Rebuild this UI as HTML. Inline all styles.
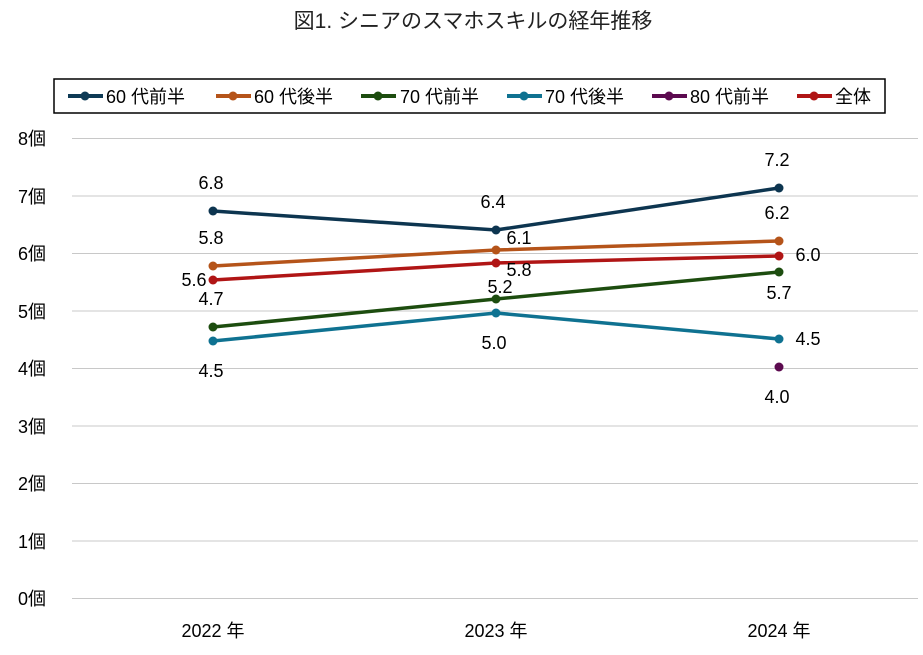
<!DOCTYPE html><html><head><meta charset="utf-8"><style>body{margin:0;background:#fff}svg text{font-family:"Liberation Sans","Noto Sans CJK JP",sans-serif}</style></head><body>
<svg width="923" height="650" xmlns="http://www.w3.org/2000/svg">
<text x="473" y="28" font-size="21" text-anchor="middle" fill="#222">図1. シニアのスマホスキルの経年推移</text>
<rect x="54" y="79" width="831" height="34" fill="#fff" stroke="#000" stroke-width="1.5"/>
<g font-size="18" fill="#000" stroke-width="4">
<line x1="68" y1="96" x2="103" y2="96" stroke="#0e3a55"/><circle cx="85" cy="96" r="4.5" fill="#0e3a55"/><text x="106" y="103">60 代前半</text>
<line x1="216" y1="96" x2="251" y2="96" stroke="#b5541a"/><circle cx="233" cy="96" r="4.5" fill="#b5541a"/><text x="254" y="103">60 代後半</text>
<line x1="361" y1="96" x2="396" y2="96" stroke="#1d4d0f"/><circle cx="378" cy="96" r="4.5" fill="#1d4d0f"/><text x="400" y="103">70 代前半</text>
<line x1="507" y1="96" x2="542" y2="96" stroke="#0f7291"/><circle cx="524" cy="96" r="4.5" fill="#0f7291"/><text x="545" y="103">70 代後半</text>
<line x1="652" y1="96" x2="687" y2="96" stroke="#5c0a4f"/><circle cx="669" cy="96" r="4.5" fill="#5c0a4f"/><text x="690" y="103">80 代前半</text>
<line x1="797" y1="96" x2="832" y2="96" stroke="#b01515"/><circle cx="814" cy="96" r="4.5" fill="#b01515"/><text x="835" y="103">全体</text>
</g>
<g stroke="#c8c8c8" stroke-width="1">
<line x1="72" y1="138.5" x2="918" y2="138.5"/><line x1="72" y1="196" x2="918" y2="196"/><line x1="72" y1="253.5" x2="918" y2="253.5"/><line x1="72" y1="311" x2="918" y2="311"/><line x1="72" y1="368.5" x2="918" y2="368.5"/><line x1="72" y1="426" x2="918" y2="426"/><line x1="72" y1="483.5" x2="918" y2="483.5"/><line x1="72" y1="541" x2="918" y2="541"/><line x1="72" y1="598.5" x2="918" y2="598.5"/>
</g>
<g font-size="18" fill="#000">
<text x="18" y="145">8個</text><text x="18" y="203">7個</text><text x="18" y="260">6個</text><text x="18" y="318">5個</text><text x="18" y="375">4個</text><text x="18" y="433">3個</text><text x="18" y="490">2個</text><text x="18" y="548">1個</text><text x="18" y="605">0個</text>
<text x="213" y="637" text-anchor="middle">2022 年</text><text x="496" y="637" text-anchor="middle">2023 年</text><text x="779" y="637" text-anchor="middle">2024 年</text>
</g>
<g fill="none" stroke-width="3.5">
<polyline points="213,211 496,230 779,188" stroke="#0d3550"/>
<polyline points="213,266 496,250 779,241" stroke="#b5541a"/>
<polyline points="213,327 496,299 779,272" stroke="#1d4d0f"/>
<polyline points="213,341 496,313 779,339" stroke="#0f7291"/>
<polyline points="213,280 496,263 779,256" stroke="#b01515"/>
</g>
<g>
<g fill="#0d3550"><circle cx="213" cy="211" r="4.5"/><circle cx="496" cy="230" r="4.5"/><circle cx="779" cy="188" r="4.5"/></g>
<g fill="#b5541a"><circle cx="213" cy="266" r="4.5"/><circle cx="496" cy="250" r="4.5"/><circle cx="779" cy="241" r="4.5"/></g>
<g fill="#1d4d0f"><circle cx="213" cy="327" r="4.5"/><circle cx="496" cy="299" r="4.5"/><circle cx="779" cy="272" r="4.5"/></g>
<g fill="#0f7291"><circle cx="213" cy="341" r="4.5"/><circle cx="496" cy="313" r="4.5"/><circle cx="779" cy="339" r="4.5"/></g>
<circle cx="779" cy="367" r="4.5" fill="#5c0a4f"/>
<g fill="#b01515"><circle cx="213" cy="280" r="4.5"/><circle cx="496" cy="263" r="4.5"/><circle cx="779" cy="256" r="4.5"/></g>
</g>
<g font-size="18" fill="#000" text-anchor="middle">
<text x="211" y="189">6.8</text><text x="493" y="208">6.4</text><text x="777" y="166">7.2</text>
<text x="211" y="244">5.8</text><text x="519" y="244">6.1</text><text x="777" y="219">6.2</text>
<text x="211" y="305">4.7</text><text x="500" y="293">5.2</text><text x="779" y="299">5.7</text>
<text x="211" y="377">4.5</text><text x="494" y="349">5.0</text><text x="808" y="345">4.5</text>
<text x="777" y="403">4.0</text>
<text x="194" y="286">5.6</text><text x="519" y="276">5.8</text><text x="808" y="261">6.0</text>
</g>
</svg></body></html>
